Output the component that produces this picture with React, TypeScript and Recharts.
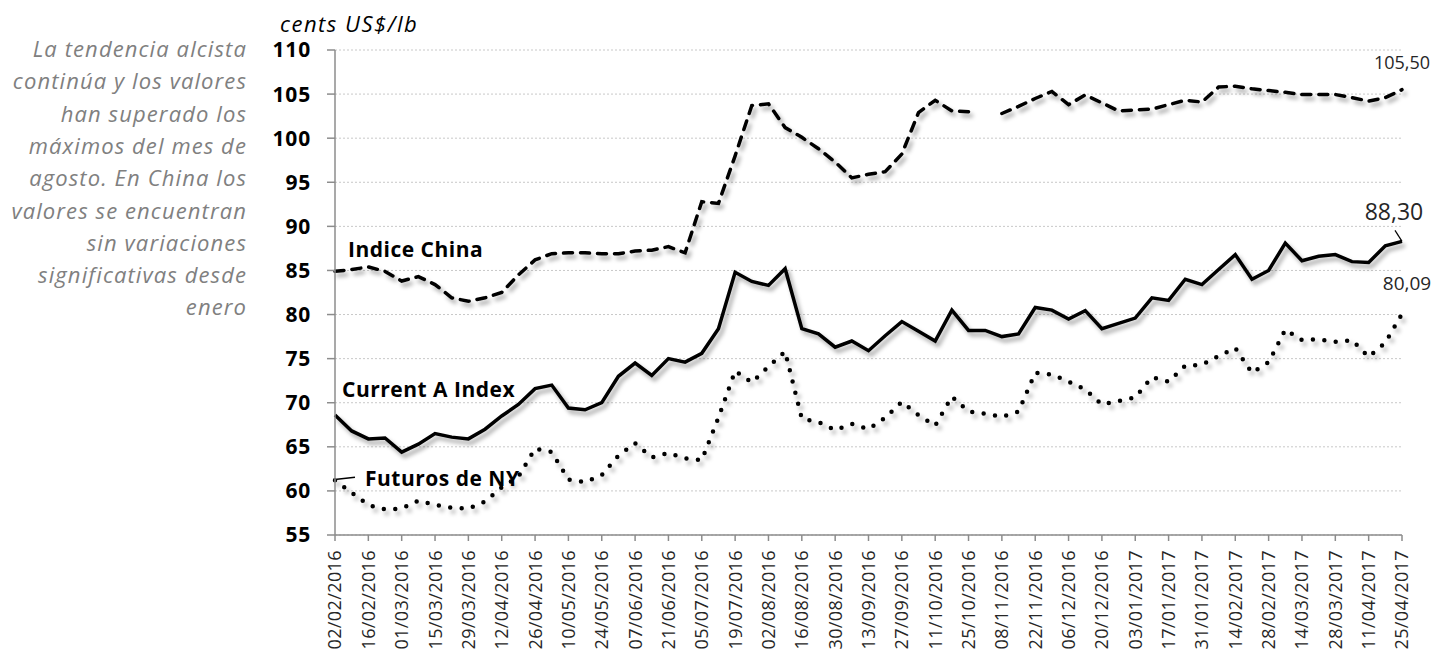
import React from "react";
import { LineChart, Line, XAxis, YAxis, CartesianGrid } from "recharts";

// weekly quotes, 02/02/2016 - 25/04/2017
const dates = [
  "02/02/2016", "09/02/2016", "16/02/2016", "23/02/2016", "01/03/2016", "08/03/2016", "15/03/2016",
  "22/03/2016", "29/03/2016", "05/04/2016", "12/04/2016", "19/04/2016", "26/04/2016", "03/05/2016",
  "10/05/2016", "17/05/2016", "24/05/2016", "31/05/2016", "07/06/2016", "14/06/2016", "21/06/2016",
  "28/06/2016", "05/07/2016", "12/07/2016", "19/07/2016", "26/07/2016", "02/08/2016", "09/08/2016",
  "16/08/2016", "23/08/2016", "30/08/2016", "06/09/2016", "13/09/2016", "20/09/2016", "27/09/2016",
  "04/10/2016", "11/10/2016", "18/10/2016", "25/10/2016", "01/11/2016", "08/11/2016", "15/11/2016",
  "22/11/2016", "29/11/2016", "06/12/2016", "13/12/2016", "20/12/2016", "27/12/2016", "03/01/2017",
  "10/01/2017", "17/01/2017", "24/01/2017", "31/01/2017", "07/02/2017", "14/02/2017", "21/02/2017",
  "28/02/2017", "07/03/2017", "14/03/2017", "21/03/2017", "28/03/2017", "04/04/2017", "11/04/2017",
  "18/04/2017", "25/04/2017",
];

const indiceChina: (number | null)[] = [
  84.9, 85.1, 85.4, 84.9, 83.8, 84.3, 83.4, 81.9, 81.5, 81.9, 82.5, 84.5, 86.2, 86.9, 87.0, 87.0,
  86.9, 86.9, 87.2, 87.3, 87.7, 87.0, 92.8, 92.6, 98.0, 103.7, 103.9, 101.2, 100.1, 98.8, 97.3, 95.5,
  95.9, 96.2, 98.2, 102.9, 104.3, 103.1, 103.0, null, 102.8, 103.6, 104.5, 105.3, 103.8, 104.9, 104.0,
  103.1, 103.2, 103.3, 103.8, 104.3, 104.1, 105.8, 105.9, 105.6, 105.4, 105.2, 104.95, 104.95, 104.95,
  104.6, 104.2, 104.6, 105.5,
];

const currentA = [
  68.6, 66.8, 65.9, 66.0, 64.4, 65.3, 66.5, 66.1, 65.9, 67.0, 68.5, 69.8, 71.6, 72.0, 69.4, 69.2,
  70.0, 73.0, 74.5, 73.1, 75.0, 74.6, 75.6, 78.4, 84.8, 83.75, 83.3, 85.2, 78.4, 77.8, 76.3, 77.0,
  75.9, 77.6, 79.2, 78.1, 77.0, 80.5, 78.2, 78.2, 77.5, 77.8, 80.8, 80.5, 79.5, 80.45, 78.4, 79.0,
  79.6, 81.9, 81.6, 84.0, 83.4, 85.1, 86.8, 84.0, 85.0, 88.1, 86.1, 86.6, 86.8, 86.0, 85.9, 87.8, 88.3,
];

const futurosNY = [
  61.2, 59.8, 58.4, 57.9, 58.0, 58.9, 58.4, 58.1, 58.0, 58.8, 60.4, 61.6, 64.8, 64.4, 61.3, 61.0,
  61.8, 64.0, 65.4, 63.8, 64.3, 63.7, 63.5, 68.3, 73.6, 72.3, 74.1, 75.8, 68.2, 67.8, 66.9, 67.6,
  67.0, 68.3, 70.1, 68.6, 67.4, 70.7, 69.0, 68.75, 68.4, 69.0, 73.4, 73.2, 72.4, 71.5, 69.8, 70.2,
  70.6, 72.9, 72.4, 74.2, 74.3, 75.3, 76.2, 73.4, 74.6, 78.3, 77.1, 77.2, 76.9, 77.1, 75.2, 76.8, 80.09,
];

const yTicks = [55, 60, 65, 70, 75, 80, 85, 90, 95, 100, 105, 110];

const note = [
  "La tendencia alcista",
  "continúa y los valores",
  "han superado los",
  "máximos del mes de",
  "agosto. En China los",
  "valores se encuentran",
  "sin variaciones",
  "significativas desde",
  "enero",
];

const data = dates.map((d, i) => ({
  date: d,
  china: indiceChina[i],
  currentA: currentA[i],
  futuros: futurosNY[i],
}));

const FONT = "'Open Sans', sans-serif";
const last = dates.length - 1;
const fmt = (v: number) => v.toFixed(2).replace(".", ",");

const DateTick = ({ x, y, payload }: any) => (
  <text
    x={x}
    y={y}
    transform={`rotate(-90, ${x}, ${y})`}
    textAnchor="end"
    dy="0.36em"
    fontFamily={FONT}
    fontSize={18}
    letterSpacing={0.4}
    fill="#262626"
  >
    {payload.value}
  </text>
);

// series name at the first point, value at the last one
const makeLabel =
  (opts: { name: string; ndx: number; ndy: number; vdx: number; vdy: number; vsize: number; leader?: boolean; nameLeader?: boolean }) =>
  (props: any) => {
    const { x, y, index, value } = props;
    if (index === 0) {
      return (
        <g>
          {opts.nameLeader && <line x1={x + 2} y1={y - 1} x2={x + 20} y2={y - 3} stroke="#000" strokeWidth={1.5} />}
          <text
            x={x + opts.ndx}
            y={y + opts.ndy}
            dy="0.35em"
            fontFamily={FONT}
            fontWeight={700}
            fontSize={21}
            letterSpacing={0.5}
            fill="#000"
          >
            {opts.name}
          </text>
        </g>
      );
    }
    if (index === last && value != null) {
      return (
        <g>
          {opts.leader && <line x1={x} y1={y} x2={x - 7} y2={y - 11} stroke="#000" strokeWidth={1.2} />}
          <text x={x + opts.vdx} y={y + opts.vdy} dy="0.35em" textAnchor="middle" fontFamily={FONT} fontSize={opts.vsize} fill="#262626">
            {fmt(Number(value))}
          </text>
        </g>
      );
    }
    return null;
  };

export default function App() {
  return (
    <div style={{ position: "absolute", left: 0, top: 0, width: 1435, height: 652, background: "#fff" }}>
      <style>{`.recharts-line-curve { filter: drop-shadow(3px 4px 2px rgba(0,0,0,0.35)); }`}</style>
      {note.map((t, i) => (
        <div
          key={i}
          style={{
            position: "absolute",
            right: 1435 - 247,
            top: 48 + i * 32.3 - 16,
            height: 32,
            lineHeight: "32px",
            whiteSpace: "nowrap",
            fontFamily: FONT,
            fontStyle: "italic",
            fontSize: 22,
            letterSpacing: 1.1,
            color: "#808080",
          }}
        >
          {t}
        </div>
      ))}
      <div
        style={{
          position: "absolute",
          left: 280,
          top: 12,
          height: 22,
          lineHeight: "22px",
          fontFamily: FONT,
          fontStyle: "italic",
          fontSize: 22,
          letterSpacing: 1.5,
          color: "#000",
        }}
      >
        cents US$/lb
      </div>
      <LineChart width={1435} height={652} data={data} margin={{ top: 50, right: 33, bottom: 0, left: 0 }}>
        <CartesianGrid vertical={false} stroke="#c8c8c8" strokeDasharray="2 2" />
        <XAxis
          dataKey="date"
          interval={1}
          height={117}
          tickSize={6}
          tickMargin={9}
          tick={<DateTick />}
          stroke="#8c8c8c"
          strokeWidth={1.5}
        />
        <YAxis
          width={335}
          domain={[55, 110]}
          ticks={yTicks}
          tickSize={8}
          tickMargin={16}
          stroke="#8c8c8c"
          strokeWidth={1.5}
          tick={{ fontFamily: FONT, fontWeight: 700, fontSize: 21, letterSpacing: 0.8, fill: "#000" }}
        />
        <Line
          dataKey="china"
          stroke="#000"
          strokeWidth={3.5}
          strokeDasharray="9 8"
          strokeLinecap="round"
          dot={false}
          isAnimationActive={false}
          label={makeLabel({ name: "Indice China", ndx: 13, ndy: -22, vdx: 0, vdy: -27, vsize: 18 })}
        />
        <Line
          dataKey="currentA"
          stroke="#000"
          strokeWidth={3.5}
          dot={false}
          isAnimationActive={false}
          label={makeLabel({ name: "Current A Index", ndx: 7, ndy: -25, vdx: -8, vdy: -29, vsize: 23, leader: true })}
        />
        <Line
          dataKey="futuros"
          stroke="#000"
          strokeWidth={4.5}
          strokeDasharray="0 11.5"
          strokeLinecap="round"
          dot={false}
          isAnimationActive={false}
          label={makeLabel({ name: "Futuros de NY", ndx: 30, ndy: -2, vdx: 5, vdy: -30, vsize: 19, nameLeader: true })}
        />
      </LineChart>
    </div>
  );
}
